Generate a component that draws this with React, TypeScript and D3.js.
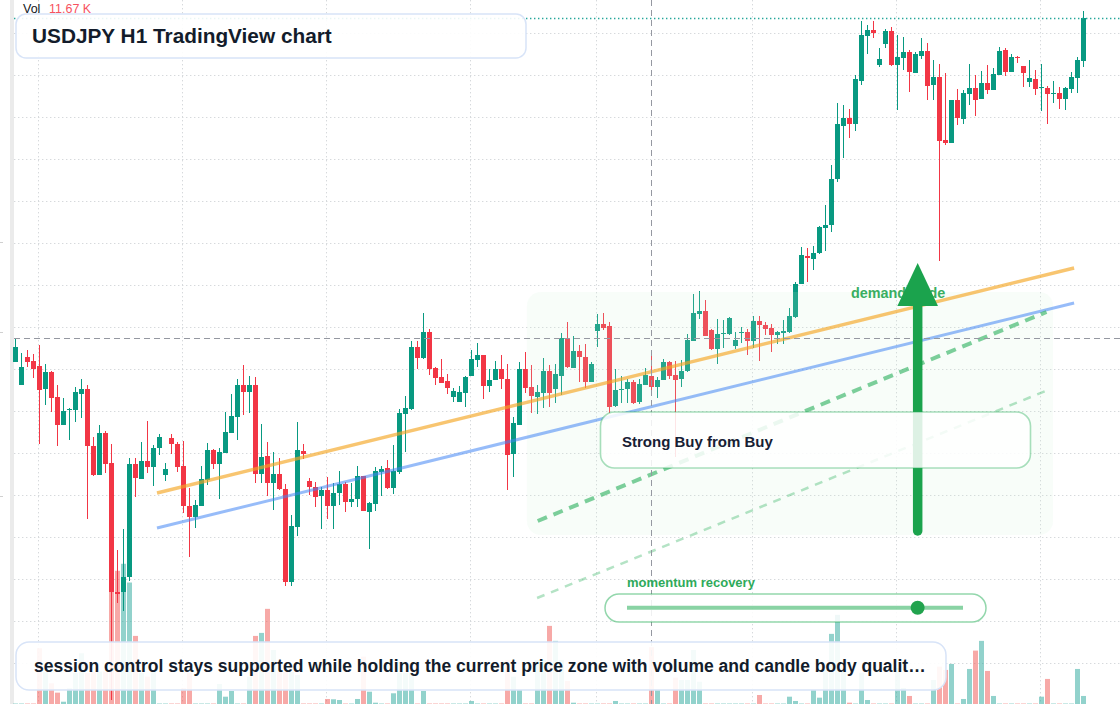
import { useEffect, useRef } from 'react';
import * as d3 from 'd3';

const W = 1120;
const H = 704;
const FONT = "'Liberation Sans', Arial, Helvetica, sans-serif";

// USDJPY H1 candles, oldest first
const opens = [
  153.38, 153.15, 153.43, 153.39, 153.34, 153.11, 153.28, 153.03, 152.75, 152.90,
  152.90, 153.06, 153.11, 152.54, 152.25, 152.67, 152.37, 151.08, 151.08, 151.23,
  152.36, 152.21, 152.39, 152.33, 152.52, 152.25, 152.62, 152.56, 152.34, 151.94,
  151.83, 151.94, 152.20, 152.50, 152.36, 152.47, 152.67, 152.83, 153.15, 153.08,
  153.15, 152.26, 152.44, 152.17, 152.26, 152.11, 151.18, 151.73, 152.49, 152.19,
  152.13, 152.04, 152.10, 151.94, 152.07, 152.16, 151.98, 152.01, 152.24, 151.88,
  151.96, 152.28, 152.32, 152.12, 152.28, 152.86, 152.91, 153.53, 153.42, 153.68,
  153.32, 153.23, 153.19, 153.03, 152.98, 153.07, 153.24, 153.40, 153.45, 153.14,
  153.20, 153.31, 153.21, 152.46, 152.75, 153.31, 153.13, 153.03, 153.07, 153.29,
  153.11, 153.24, 153.62, 153.32, 153.49, 153.43, 153.18, 153.69, 153.76, 153.74,
  152.94, 153.10, 153.11, 153.18, 152.98, 153.15, 153.24, 153.13, 153.20, 153.38,
  153.25, 153.21, 153.29, 153.59, 153.86, 153.89, 153.70, 153.51, 153.66, 153.66,
  153.54, 153.67, 153.68, 153.59, 153.79, 153.75, 153.72, 153.65, 153.67, 153.68,
  153.83, 154.16, 154.44, 154.41, 154.47, 154.72, 154.75, 155.21, 155.74, 155.82,
  155.76, 156.19, 156.64, 156.70, 156.35, 156.56, 156.69, 156.35, 156.42, 156.48,
  156.27, 156.44, 156.49, 156.15, 156.23, 155.60, 155.57, 156.00, 155.81, 156.06,
  156.12, 156.01, 156.17, 156.10, 156.25, 156.50, 156.28, 156.43, 156.34, 156.18,
  156.21, 156.12, 156.12, 156.06, 156.07, 156.01, 156.11, 156.22, 156.39,
];
const highs = [
  153.61, 153.47, 153.50, 153.46, 153.55, 153.36, 153.29, 153.15, 153.02, 152.92,
  153.13, 153.21, 153.15, 152.63, 152.75, 152.69, 152.56, 151.50, 151.71, 152.42,
  152.42, 152.58, 152.79, 152.55, 152.66, 152.37, 152.66, 152.58, 152.59, 152.12,
  152.00, 152.34, 152.57, 152.51, 152.52, 152.88, 153.06, 153.21, 153.35, 153.24,
  153.23, 152.76, 152.58, 152.48, 152.42, 152.16, 151.85, 152.78, 152.56, 152.22,
  152.18, 152.13, 152.23, 152.17, 152.29, 152.18, 152.17, 152.34, 152.24, 151.98,
  152.33, 152.34, 152.40, 152.55, 152.91, 153.04, 153.59, 153.59, 153.87, 153.71,
  153.33, 153.41, 153.26, 153.12, 153.14, 153.24, 153.50, 153.57, 153.45, 153.31,
  153.39, 153.45, 153.36, 152.83, 153.38, 153.48, 153.35, 153.15, 153.42, 153.35,
  153.36, 153.67, 153.78, 153.64, 153.55, 153.56, 153.38, 153.86, 153.87, 153.78,
  153.31, 153.24, 153.21, 153.20, 153.21, 153.32, 153.49, 153.23, 153.41, 153.39,
  153.39, 153.40, 153.66, 154.06, 154.09, 154.00, 153.71, 153.81, 153.80, 153.83,
  153.68, 153.73, 153.71, 153.84, 153.84, 153.78, 153.76, 153.69, 153.80, 153.92,
  154.18, 154.53, 154.52, 154.54, 154.74, 154.95, 155.35, 155.97, 155.95, 155.91,
  156.25, 156.79, 156.75, 156.79, 156.52, 156.71, 156.73, 156.65, 156.63, 156.50,
  156.48, 156.62, 156.57, 156.40, 156.36, 156.27, 156.00, 156.11, 156.10, 156.36,
  156.25, 156.29, 156.35, 156.32, 156.53, 156.52, 156.46, 156.44, 156.34, 156.40,
  156.30, 156.36, 156.14, 156.19, 156.13, 156.13, 156.28, 156.43, 156.89,
];
const lows = [
  153.38, 153.15, 153.33, 153.22, 152.56, 152.95, 152.88, 152.54, 152.75, 152.60,
  152.78, 152.82, 151.81, 152.24, 152.25, 152.27, 150.00, 150.97, 150.89, 151.19,
  152.03, 152.21, 152.27, 152.14, 152.45, 152.19, 152.46, 152.28, 151.87, 151.43,
  151.72, 151.94, 152.15, 152.31, 152.01, 152.47, 152.67, 152.60, 152.85, 152.87,
  152.17, 152.17, 152.04, 151.90, 152.10, 151.14, 151.14, 151.64, 152.41, 152.05,
  151.93, 151.71, 151.81, 151.71, 151.95, 151.88, 151.93, 151.93, 151.89, 151.51,
  151.89, 152.04, 152.11, 152.06, 152.26, 152.48, 152.90, 153.31, 153.41, 153.25,
  153.15, 153.17, 153.06, 152.98, 152.98, 152.93, 153.24, 153.33, 153.01, 153.08,
  153.20, 153.11, 152.10, 152.23, 152.75, 153.07, 152.87, 152.86, 152.92, 152.93,
  152.97, 153.05, 153.32, 153.32, 153.18, 153.12, 153.18, 153.53, 153.70, 152.87,
  152.93, 152.97, 152.97, 152.96, 152.96, 153.15, 153.05, 153.02, 153.20, 153.21,
  152.43, 153.13, 153.28, 153.59, 153.81, 153.64, 153.50, 153.36, 153.52, 153.65,
  153.51, 153.57, 153.45, 153.52, 153.39, 153.65, 153.48, 153.56, 153.56, 153.67,
  153.82, 154.16, 154.18, 154.30, 154.46, 154.49, 154.68, 155.18, 155.42, 155.62,
  155.69, 156.15, 156.46, 156.62, 156.33, 156.52, 156.34, 155.90, 156.30, 156.08,
  156.27, 156.41, 156.00, 156.00, 154.39, 155.55, 155.57, 155.75, 155.76, 155.95,
  155.84, 156.01, 156.06, 156.10, 156.25, 156.24, 156.28, 156.37, 156.13, 156.13,
  156.05, 155.89, 155.76, 155.97, 155.91, 155.90, 156.07, 156.07, 156.33,
];
const closes = [
  153.53, 153.33, 153.38, 153.31, 153.10, 153.28, 153.02, 152.75, 152.89, 152.91,
  153.08, 153.11, 152.54, 152.25, 152.67, 152.36, 151.08, 151.06, 151.23, 152.36,
  152.22, 152.39, 152.33, 152.52, 152.63, 152.31, 152.56, 152.33, 151.94, 151.83,
  151.95, 152.21, 152.50, 152.36, 152.48, 152.68, 152.84, 153.15, 153.08, 153.15,
  152.26, 152.43, 152.17, 152.26, 152.11, 151.18, 151.74, 152.50, 152.46, 152.13,
  152.03, 152.10, 151.94, 152.07, 152.16, 151.98, 152.01, 152.24, 151.89, 151.97,
  152.29, 152.31, 152.12, 152.29, 152.87, 152.92, 153.53, 153.42, 153.68, 153.31,
  153.22, 153.17, 153.12, 153.09, 153.08, 153.23, 153.41, 153.45, 153.14, 153.20,
  153.31, 153.21, 152.45, 152.77, 153.31, 153.12, 153.04, 153.08, 153.29, 153.07,
  153.26, 153.62, 153.33, 153.49, 153.43, 153.18, 153.36, 153.76, 153.72, 152.93,
  153.10, 153.11, 153.18, 152.97, 153.16, 153.25, 153.13, 153.20, 153.38, 153.24,
  153.20, 153.29, 153.60, 153.87, 153.89, 153.64, 153.51, 153.66, 153.67, 153.82,
  153.60, 153.68, 153.59, 153.79, 153.75, 153.71, 153.65, 153.68, 153.69, 153.84,
  154.16, 154.45, 154.42, 154.47, 154.73, 154.75, 155.21, 155.76, 155.82, 155.76,
  156.21, 156.65, 156.70, 156.67, 156.41, 156.69, 156.35, 156.43, 156.48, 156.28,
  156.46, 156.49, 156.14, 156.23, 155.59, 155.57, 156.00, 155.82, 156.07, 156.12,
  156.00, 156.17, 156.10, 156.26, 156.49, 156.28, 156.43, 156.42, 156.27, 156.22,
  156.11, 156.13, 156.06, 156.07, 156.01, 156.12, 156.23, 156.40, 156.82,
];
// volume in thousands
const volumes = [
  0.1, 0.1, 0.1, 0.1, 11.46, 6.59, 4.26, 2.33, 0.47, 3.23,
  6.38, 10.43, 6.38, 6.59, 6.65, 6.65, 23.46, 27.37, 28.81, 24.96,
  13.99, 6.38, 5.62, 6.65, 0.1, 0.1, 0.1, 0.1, 3.23, 6.38,
  0.1, 0.1, 0.1, 0.1, 4.12, 1.5, 2.68, 0.1, 0.1, 5.62,
  13.99, 14.61, 19.55, 11.11, 6.59, 6.59, 6.59, 5.97, 0.1, 0.1,
  0.1, 0.1, 1.03, 0.97, 0.82, 0.1, 0.1, 1.03, 9.73, 2.53,
  0.27, 0.1, 0.1, 2.2, 6.38, 6.38, 6.38, 0.1, 2.68, 0.1,
  0.1, 0.1, 0.1, 0.1, 0.1, 0.1, 0.62, 0.1, 0.1, 0.1,
  0.1, 0.1, 9.06, 5.62, 2.88, 0.1, 0.1, 9.06, 9.06, 16.05,
  12.97, 9.06, 4.73, 0.27, 0.1, 0.1, 0.1, 0.1, 0.1, 0.1,
  0.62, 0.1, 0.1, 0.1, 0.1, 0.1, 11.67, 2.88, 0.1, 0.1,
  5.41, 4.94, 4.94, 11.11, 4.59, 0.1, 0.1, 0.1, 0.1, 0.1,
  0.1, 0.1, 0.1, 0.1, 1.85, 0.1, 0.1, 0.1, 0.1, 1.5,
  0.62, 0.1, 0.1, 2.88, 1.3, 7.0, 14.41, 18.32, 7.0, 0.27,
  0.1, 6.38, 0.82, 0.1, 0.1, 0.1, 0.1, 7.41, 3.29, 1.65,
  0.1, 0.1, 0.1, 4.94, 7.68, 7.0, 8.23, 0.1, 1.03, 7.2,
  10.97, 12.97, 6.79, 1.65, 0.1, 0.1, 0.1, 0.1, 0.1, 0.1,
  0.1, 1.5, 5.15, 0.1, 0.1, 0.1, 0.1, 7.2, 1.65,
];

// grid
const gridPrices = [
  156.673, 156.253, 155.833, 155.413, 154.993, 154.573, 154.153, 153.733,
  153.313, 152.893, 152.473, 152.053, 151.633, 151.213, 150.793, 150.373,
];
const gridCandles = [4, 28, 52, 76, 97, 123, 147, 171];

const crosshairCandle = 106;
const crosshairPrice = 153.62;

// drawings: [candleIndex, price]
const orangeTrend = [[23.55, 152.07], [176.4, 154.32]];
const blueTrend = [[23.55, 151.72], [176.4, 153.97]];
const greenDashed = [[87.0, 151.79], [171.8, 153.88]];
const greenDashedLight = [[86.9, 151.02], [172.05, 153.1]];
const demandZone = { from: 85.2, to: 172.9, top: 154.08, bottom: 151.65 };
const arrow = { at: 150.33, tip: 154.37, base: 153.94, tail: 151.69 };

const title = 'USDJPY H1 TradingView chart';
const signalText = 'Strong Buy from Buy';
const zoneText = 'demand trade';
const momentumText = 'momentum recovery';
const momentumLevel = 0.865;
const footerText =
  'session control stays supported while holding the current price zone with volume and candle body qualit…';

const UP = '#089981';
const DOWN = '#f23645';

function TradingChart() {
  const svgRef = useRef<SVGSVGElement>(null);

  useEffect(() => {
    const svg = d3.select(svgRef.current);
    svg.selectAll('*').remove();

    const x = d3.scaleLinear().domain([0, opens.length - 1]).range([15.7, 1083.7]);
    const y = d3.scaleLinear().domain([150, 157]).range([700, 0]);
    const v = d3.scaleLinear().domain([0, 30]).range([704, 558]);
    const cx = (i: number) => Math.floor(x(i)) + 0.5;

    svg.append('rect').attr('width', W).attr('height', H).attr('fill', '#ffffff');

    // grid
    const grid = svg.append('g');
    grid.selectAll('.hg')
      .data(gridPrices)
      .join('line')
      .attr('x1', 14).attr('x2', W)
      .attr('y1', d => Math.round(y(d)) + 0.5)
      .attr('y2', d => Math.round(y(d)) + 0.5)
      .attr('stroke', '#d6d9dc')
      .attr('stroke-dasharray', '1.4 2.6');
    grid.selectAll('.vg')
      .data(gridCandles)
      .join('line')
      .attr('x1', d => cx(d) - 1).attr('x2', d => cx(d) - 1)
      .attr('y1', 0).attr('y2', H)
      .attr('stroke', '#d6d9dc')
      .attr('stroke-dasharray', '1.4 2.6');

    // left edge
    svg.append('rect').attr('x', 10).attr('y', 0).attr('width', 4).attr('height', H).attr('fill', '#ebebeb');
    svg.selectAll('.tick')
      .data([242, 332, 496])
      .join('line')
      .attr('x1', 0).attr('x2', 3)
      .attr('y1', d => d + 0.5).attr('y2', d => d + 0.5)
      .attr('stroke', '#d0d0d0');

    const idx = d3.range(opens.length);

    // volume
    svg.append('g')
      .selectAll('rect')
      .data(idx)
      .join('rect')
      .attr('x', i => cx(i) - 2.5)
      .attr('width', 5)
      .attr('y', i => v(volumes[i]))
      .attr('height', i => H - v(volumes[i]))
      .attr('fill', i => (closes[i] >= opens[i] ? 'rgba(38,166,154,0.5)' : 'rgba(239,83,80,0.5)'));

    // candles
    const cg = svg.append('g');
    cg.selectAll('.wick')
      .data(idx)
      .join('line')
      .attr('x1', i => cx(i)).attr('x2', i => cx(i))
      .attr('y1', i => Math.round(y(highs[i])))
      .attr('y2', i => Math.round(y(lows[i])))
      .attr('stroke', i => (closes[i] >= opens[i] ? UP : DOWN))
      .attr('stroke-width', 1);
    cg.selectAll('.body')
      .data(idx)
      .join('rect')
      .attr('x', i => cx(i) - 2.5)
      .attr('width', 5)
      .attr('y', i => Math.round(y(Math.max(opens[i], closes[i]))))
      .attr('height', i => Math.max(1, Math.round(y(Math.min(opens[i], closes[i]))) - Math.round(y(Math.max(opens[i], closes[i])))))
      .attr('fill', i => (closes[i] >= opens[i] ? UP : DOWN));

    // demand zone shade
    svg.append('rect')
      .attr('x', x(demandZone.from))
      .attr('y', y(demandZone.top))
      .attr('width', x(demandZone.to) - x(demandZone.from))
      .attr('height', y(demandZone.bottom) - y(demandZone.top))
      .attr('rx', 14)
      .attr('fill', 'rgba(208,242,215,0.15)');

    const seg = (pts: number[][], color: string, w: number, dash?: string) => {
      const l = svg.append('line')
        .attr('x1', x(pts[0][0])).attr('y1', y(pts[0][1]))
        .attr('x2', x(pts[1][0])).attr('y2', y(pts[1][1]))
        .attr('stroke', color)
        .attr('stroke-width', w);
      if (dash) l.attr('stroke-dasharray', dash);
    };
    seg(orangeTrend, 'rgba(245,166,35,0.65)', 3.4);
    seg(blueTrend, 'rgba(66,133,244,0.55)', 3);
    seg(greenDashed, 'rgba(40,175,90,0.6)', 4, '10 7');
    seg(greenDashedLight, 'rgba(40,175,90,0.35)', 2.5, '8 7');

    // last price line
    const lastY = Math.round(y(closes[closes.length - 1])) + 0.5;
    svg.append('line')
      .attr('x1', 14).attr('x2', W)
      .attr('y1', lastY).attr('y2', lastY)
      .attr('stroke', '#26a69a')
      .attr('stroke-width', 1.3)
      .attr('stroke-dasharray', '1.4 2.6');

    // crosshair
    const chX = cx(crosshairCandle);
    const chY = Math.round(y(crosshairPrice)) + 0.5;
    svg.append('line')
      .attr('x1', 14).attr('x2', W).attr('y1', chY).attr('y2', chY)
      .attr('stroke', '#9598a1').attr('stroke-dasharray', '6 4');
    svg.append('line')
      .attr('x1', chX).attr('x2', chX).attr('y1', 0).attr('y2', H)
      .attr('stroke', '#9598a1').attr('stroke-dasharray', '6 4');

    // demand label + arrow
    svg.append('text')
      .attr('x', x(139.2)).attr('y', 297.7)
      .attr('font-family', FONT).attr('font-weight', 700).attr('font-size', 14.4)
      .attr('fill', '#3aae62')
      .text(zoneText);
    const ax = x(arrow.at);
    svg.append('line')
      .attr('x1', ax).attr('x2', ax)
      .attr('y1', y(arrow.base)).attr('y2', y(arrow.tail))
      .attr('stroke', '#1ba34d').attr('stroke-width', 9.5).attr('stroke-linecap', 'round');
    svg.append('path')
      .attr('d', `M${ax},${y(arrow.tip)} L${ax + 20.3},${y(arrow.base)} L${ax - 20.3},${y(arrow.base)} Z`)
      .attr('fill', '#1ba34d');

    // title box
    svg.append('rect')
      .attr('x', 16).attr('y', 14).attr('width', 510).attr('height', 44).attr('rx', 10)
      .attr('fill', 'rgba(255,255,255,0.9)').attr('stroke', '#d8e4f8').attr('stroke-width', 1.5);
    svg.append('text')
      .attr('x', 32).attr('y', 42.7)
      .attr('font-family', FONT).attr('font-weight', 700).attr('font-size', 20.8)
      .attr('fill', '#131c2b')
      .text(title);

    // signal box
    svg.append('rect')
      .attr('x', 600.5).attr('y', 412).attr('width', 430).attr('height', 56).attr('rx', 14)
      .attr('fill', 'rgba(255,255,255,0.85)').attr('stroke', 'rgba(40,175,90,0.4)').attr('stroke-width', 1.6);
    svg.append('text')
      .attr('x', 622).attr('y', 447.3)
      .attr('font-family', FONT).attr('font-weight', 700).attr('font-size', 15)
      .attr('fill', '#172033')
      .text(signalText);

    // momentum slider
    svg.append('text')
      .attr('x', 627).attr('y', 586.7)
      .attr('font-family', FONT).attr('font-weight', 700).attr('font-size', 13)
      .attr('fill', '#2eaa5a')
      .text(momentumText);
    svg.append('rect')
      .attr('x', 605).attr('y', 594).attr('width', 381).attr('height', 28).attr('rx', 14)
      .attr('fill', 'rgba(255,255,255,0.85)').attr('stroke', 'rgba(40,175,90,0.5)').attr('stroke-width', 1.5);
    const sx = d3.scaleLinear().domain([0, 1]).range([627, 963]);
    svg.append('line')
      .attr('x1', sx(0)).attr('x2', sx(1)).attr('y1', 607.7).attr('y2', 607.7)
      .attr('stroke', 'rgba(40,175,90,0.55)').attr('stroke-width', 4);
    svg.append('circle')
      .attr('cx', sx(momentumLevel)).attr('cy', 607.7).attr('r', 7)
      .attr('fill', '#22a34e');

    // footer box
    svg.append('rect')
      .attr('x', 16).attr('y', 642).attr('width', 930).attr('height', 48).attr('rx', 13)
      .attr('fill', 'rgba(255,255,255,0.9)').attr('stroke', '#d8e4f8').attr('stroke-width', 1.5);
    svg.append('text')
      .attr('x', 34).attr('y', 672)
      .attr('font-family', FONT).attr('font-weight', 700).attr('font-size', 17.5)
      .attr('fill', '#131c2b')
      .text(footerText);

    // volume legend
    svg.append('text')
      .attr('x', 23).attr('y', 13)
      .attr('font-family', FONT).attr('font-size', 12.5)
      .attr('fill', '#131722')
      .text('Vol');
    svg.append('text')
      .attr('x', 49).attr('y', 13)
      .attr('font-family', FONT).attr('font-size', 12.5)
      .attr('fill', '#f7525f')
      .text(`${volumes[crosshairCandle].toFixed(2)} K`);
  }, []);

  return (
    <svg
      ref={svgRef}
      width={W}
      height={H}
      style={{ position: 'absolute', left: 0, top: 0, display: 'block' }}
    />
  );
}

export default function App() {
  return <TradingChart />;
}
